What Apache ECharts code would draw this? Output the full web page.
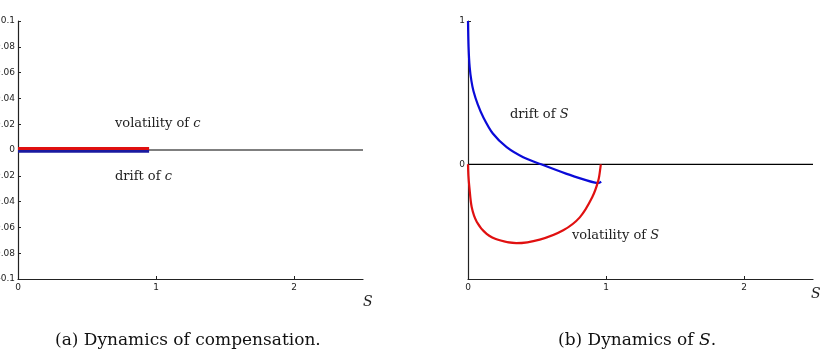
<!DOCTYPE html>
<html lang="en">

<head>
    <meta charset="UTF-8">
    <title>Dynamics</title>
    <script src="https://cdn.jsdelivr.net/npm/echarts@6/dist/echarts.min.js"></script>
</head>

<body style="margin:0;background:#fff">
    <div id="main" style="width: 826px;height:364px;"></div>
    <script type="text/javascript">
        // panel (a): compensation dynamics, flat lines near zero
        var cS = [0, 0.95];
        var volC = [0.0012, 0.0012];
        var driftC = [-0.0009, -0.0009];

        // panel (b): dynamics of S
        var driftSx = [0, 0.004, 0.012, 0.025, 0.04, 0.07, 0.11, 0.18, 0.28, 0.40, 0.53, 0.71, 0.86, 0.92, 0.945, 0.965];
        var driftSy = [1.0, 0.82, 0.68, 0.58, 0.51, 0.42, 0.33, 0.215, 0.12, 0.05, 0.0, -0.065, -0.112, -0.128, -0.13, -0.12];
        var volSx = [0, 0.003, 0.01, 0.027, 0.063, 0.135, 0.23, 0.35, 0.52, 0.69, 0.81, 0.90, 0.945, 0.96, 0.962];
        var volSy = [0, -0.08, -0.16, -0.30, -0.40, -0.485, -0.53, -0.55, -0.525, -0.46, -0.37, -0.23, -0.11, -0.02, 0];

        var xTicks = [0, 1, 2];
        var yTicksB = [0, 1];

        function zip(xs, ys) {
            return xs.map(function (x, i) { return [x, ys[i]]; });
        }

        var serif = 'DejaVu Serif';
        var tickFont = { fontFamily: 'DejaVu Sans', fontSize: 9, color: '#222' };
        var axisLine = { onZero: false, lineStyle: { color: '#222', width: 1.2 } };

        function xAx(idx) {
            return {
                type: 'value', gridIndex: idx, min: 0, max: 2.5,
                axisLine: axisLine,
                axisTick: { inside: true, length: 3, customValues: xTicks, lineStyle: { color: '#222' } },
                axisLabel: Object.assign({ customValues: xTicks, margin: 4 }, tickFont),
                splitLine: { show: false }
            };
        }

        // text with an italic math symbol in it
        function label(x, y, pre, it, post, size, col) {
            return {
                type: 'text', left: x, top: y,
                style: {
                    text: pre + '{i|' + it + '}' + post, font: size + 'px ' + serif, fill: col,
                    rich: { i: { fontStyle: 'italic', fontFamily: serif, fontSize: size, color: col } }
                }
            };
        }

        var myChart = echarts.init(document.getElementById('main'));
        var option = {
            animation: false,
            backgroundColor: '#fff',
            grid: [
                { left: 18, top: 21, width: 345, height: 258, outerBoundsMode: 'none', containLabel: false },
                { left: 468, top: 21, width: 345, height: 258, outerBoundsMode: 'none', containLabel: false }
            ],
            xAxis: [xAx(0), xAx(1)],
            yAxis: [
                {
                    type: 'value', gridIndex: 0, min: -0.1, max: 0.1, interval: 0.02,
                    axisLine: axisLine,
                    axisTick: { inside: true, length: 3, lineStyle: { color: '#222' } },
                    axisLabel: Object.assign({ margin: 3 }, tickFont),
                    splitLine: { show: false }
                },
                {
                    type: 'value', gridIndex: 1, min: -0.8, max: 1,
                    axisLine: axisLine,
                    axisTick: { inside: true, length: 3, customValues: yTicksB, lineStyle: { color: '#222' } },
                    axisLabel: Object.assign({ customValues: yTicksB, margin: 3 }, tickFont),
                    splitLine: { show: false }
                }
            ],
            series: [
                {
                    type: 'line', xAxisIndex: 0, yAxisIndex: 0, symbol: 'none',
                    data: [[0, 0], [2.5, 0]],
                    lineStyle: { color: '#555', width: 1.5 }, z: 1
                },
                {
                    name: 'volatility of c', type: 'line', xAxisIndex: 0, yAxisIndex: 0, symbol: 'none',
                    data: zip(cS, volC), lineStyle: { color: '#e01010', width: 3 }, z: 3
                },
                {
                    name: 'drift of c', type: 'line', xAxisIndex: 0, yAxisIndex: 0, symbol: 'none',
                    data: zip(cS, driftC), lineStyle: { color: '#1a1aa0', width: 3 }, z: 2
                },
                {
                    type: 'line', xAxisIndex: 1, yAxisIndex: 1, symbol: 'none',
                    data: [[0, 0], [2.5, 0]],
                    lineStyle: { color: '#000', width: 1.3 }, z: 1
                },
                {
                    name: 'drift of S', type: 'line', xAxisIndex: 1, yAxisIndex: 1, symbol: 'none', smooth: 0.3,
                    data: zip(driftSx, driftSy), lineStyle: { color: '#0a0ad8', width: 2.2 }, z: 3
                },
                {
                    name: 'volatility of S', type: 'line', xAxisIndex: 1, yAxisIndex: 1, symbol: 'none', smooth: 0.3,
                    data: zip(volSx, volSy), lineStyle: { color: '#e01010', width: 2.2 }, z: 3
                }
            ],
            graphic: [
                label(115, 117, 'volatility of ', 'c', '', 13, '#222'),
                label(115, 170, 'drift of ', 'c', '', 13, '#222'),
                label(510, 108, 'drift of ', 'S', '', 13, '#222'),
                label(572, 229, 'volatility of ', 'S', '', 13, '#222'),
                { type: 'text', left: 363, top: 295, style: { text: 'S', font: 'italic 14px ' + serif, fill: '#222' } },
                { type: 'text', left: 811, top: 287, style: { text: 'S', font: 'italic 14px ' + serif, fill: '#222' } },
                label(55, 332, '(a) Dynamics of compensation.', '', '', 17, '#111'),
                label(558, 332, '(b) Dynamics of ', 'S', '.', 17, '#111')
            ]
        };
        myChart.setOption(option);
    </script>
</body>

</html>
